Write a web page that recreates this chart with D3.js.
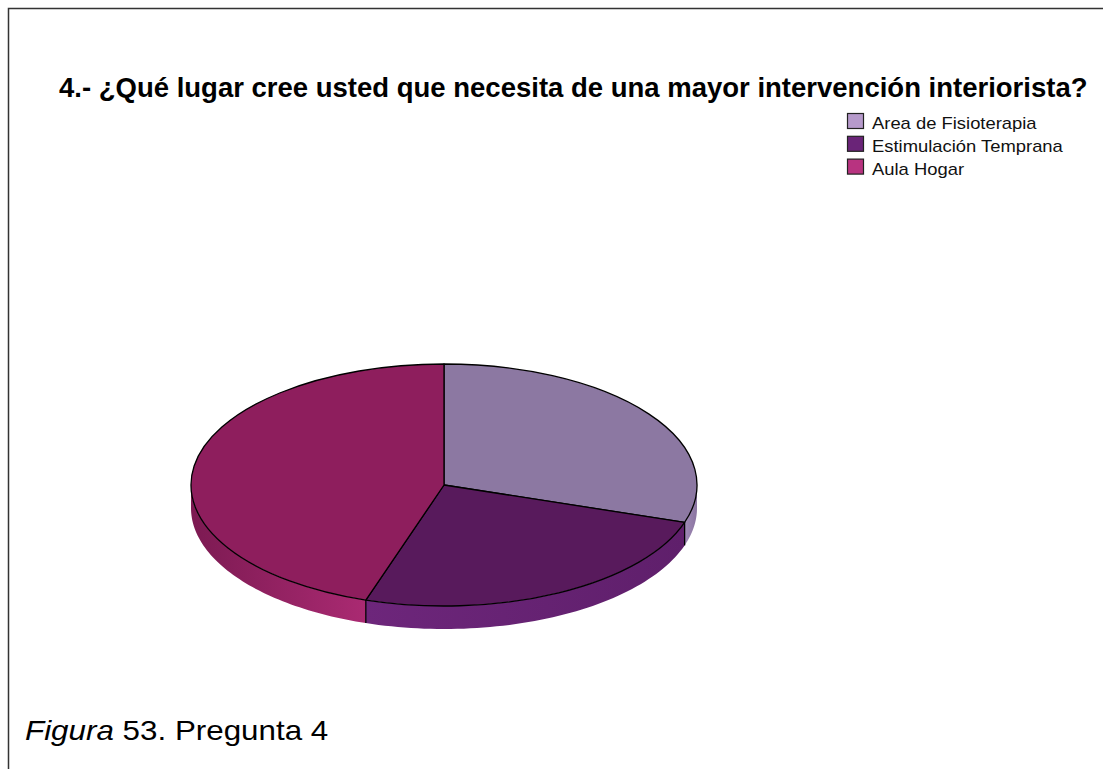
<!DOCTYPE html>
<html>
<head>
<meta charset="utf-8">
<script src="https://cdn.jsdelivr.net/npm/d3@7"></script>
<style>
  body { margin: 0; background: #fff; }
  svg { display: block; font-family: "Liberation Sans", Arial, sans-serif; }
</style>
</head>
<body>
<div class="drawing"></div>
<script>
// Data
var title = "4.- ¿Qué lugar cree usted que necesita de una mayor intervención interiorista?";
var categories = ["Area de Fisioterapia", "Estimulación Temprana", "Aula Hogar"];
var values = [30, 25, 45];

// Colours (top face, side dark end, side light end, legend swatch)
var topColors = ["#8c78a2", "#581a5c", "#8e1e5d"];
var sideDark = ["#8a74a0", "#5f1f6b", "#7c1a52"];
var sideLight = ["#a08ab6", "#6d267b", "#aa2a72"];
var swatchColors = ["#b69acb", "#6a2478", "#b83380"];

var width = 1103, height = 769;
var cx = 444, cy = 485, rx = 253, ry = 121, depth = 23;

var svg = d3.select(".drawing").append("svg")
    .attr("width", width)
    .attr("height", height);

// Frame
svg.append("path")
    .attr("d", "M8.5," + height + " L8.5,8.5 L" + width + ",8.5")
    .attr("fill", "none")
    .attr("stroke", "#333")
    .attr("stroke-width", 1.5);

// Title
var t = svg.append("text")
    .attr("x", 59)
    .attr("y", 97)
    .attr("font-size", 23)
    .attr("font-weight", "bold")
    .text(title);
var tw = t.node().getComputedTextLength();
t.attr("font-size", 23 * 1029 / tw);

// Pie layout
var pie = d3.pie().sort(null).startAngle(0).endAngle(2 * Math.PI);
var arcs = pie(values);

function ept(a, dy) {
    return [cx + rx * Math.sin(a), cy - ry * Math.cos(a) + (dy || 0)];
}

// Side wall of one slice (only the front half is visible)
function wallPath(a0, a1) {
    var s = Math.max(a0, Math.PI / 2), e = Math.min(a1, 3 * Math.PI / 2);
    if (e <= s) return null;
    var n = 60;
    var angles = d3.range(n + 1).map(function(i) { return s + (e - s) * i / n; });
    var top = angles.map(function(a) { return ept(a); });
    var bot = angles.slice().reverse().map(function(a) { return ept(a, depth); });
    return d3.line()(top.concat(bot)) + "Z";
}

var defs = svg.append("defs");
var g = svg.append("g");

arcs.forEach(function(d, i) {
    var p = wallPath(d.startAngle, d.endAngle);
    if (!p) return;
    var s = Math.max(d.startAngle, Math.PI / 2), e = Math.min(d.endAngle, 3 * Math.PI / 2);
    var x0 = ept(s)[0], x1 = ept(e)[0];
    // darker towards the sides, lighter towards the front
    var front = Math.abs(Math.sin(s)) > Math.abs(Math.sin(e));
    var grad = defs.append("linearGradient")
        .attr("id", "side" + i)
        .attr("gradientUnits", "userSpaceOnUse")
        .attr("x1", x0).attr("y1", 0).attr("x2", x1).attr("y2", 0);
    grad.append("stop").attr("offset", "0%").attr("stop-color", front ? sideDark[i] : sideLight[i]);
    grad.append("stop").attr("offset", "100%").attr("stop-color", front ? sideLight[i] : sideDark[i]);
    g.append("path")
        .attr("class", "side")
        .attr("d", p)
        .attr("fill", "url(#side" + i + ")");
});

// Top faces
var arc = d3.arc().innerRadius(0).outerRadius(rx);
g.selectAll(".slice")
    .data(arcs)
    .enter().append("path")
    .attr("class", "slice")
    .attr("transform", "translate(" + cx + "," + cy + ") scale(1," + (ry / rx) + ")")
    .attr("d", arc)
    .attr("fill", function(d, i) { return topColors[i]; })
    .attr("stroke", "#000")
    .attr("stroke-width", 1.3)
    .attr("vector-effect", "non-scaling-stroke")
    .attr("stroke-linejoin", "round");

// Vertical edges where slices meet on the front wall
arcs.forEach(function(d) {
    var a = d.startAngle;
    if (a > Math.PI / 2 && a < 3 * Math.PI / 2) {
        var p = ept(a);
        g.append("line")
            .attr("x1", p[0]).attr("y1", p[1])
            .attr("x2", p[0]).attr("y2", p[1] + depth)
            .attr("stroke", "#000")
            .attr("stroke-width", 1.3);
    }
});

// Legend
var legend = svg.append("g").attr("transform", "translate(847,113)");
categories.forEach(function(c, i) {
    var row = legend.append("g").attr("transform", "translate(0," + (i * 22.8) + ")");
    row.append("rect")
        .attr("x", 0.5).attr("y", 0.5)
        .attr("width", 16).attr("height", 15)
        .attr("fill", swatchColors[i])
        .attr("stroke", "#222")
        .attr("stroke-width", 1.2);
    row.append("text")
        .attr("transform", "translate(25,16) scale(1.15,1)")
        .attr("font-size", 16)
        .attr("fill", "#111")
        .text(c);
});

// Caption
var cap = svg.append("text")
    .attr("transform", "translate(25,740) scale(1.12,1)")
    .attr("font-size", 28);
cap.append("tspan").attr("font-style", "italic").text("Figura");
cap.append("tspan").text(" 53. Pregunta 4");
</script>
</body>
</html>
